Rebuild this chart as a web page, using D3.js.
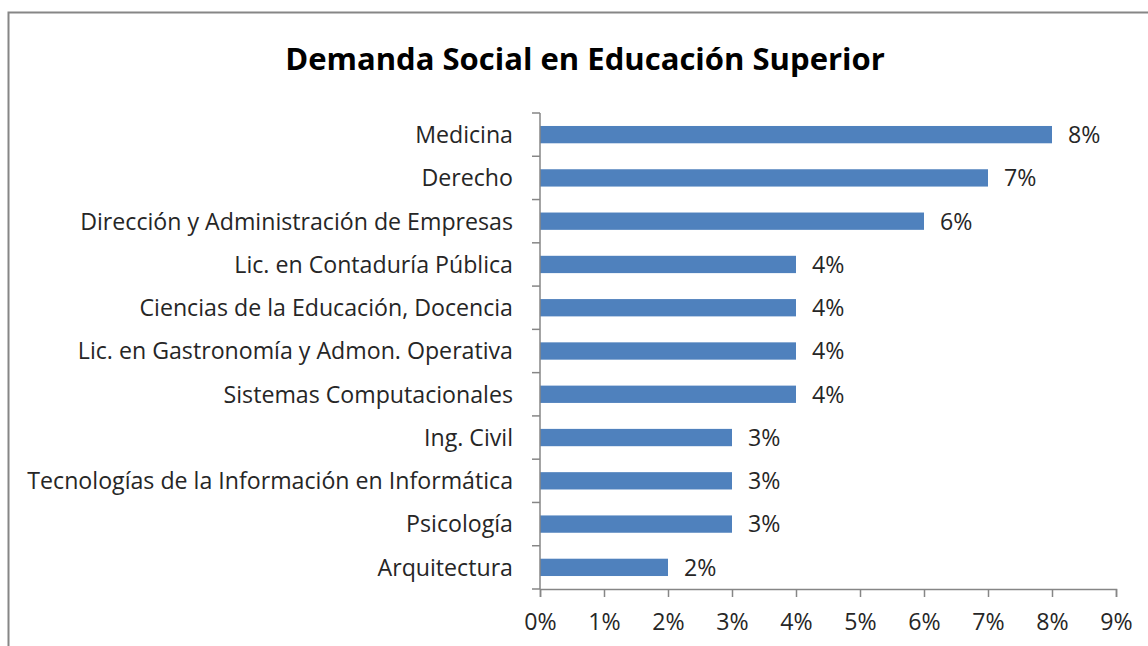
<!DOCTYPE html>
<html><head><meta charset="utf-8">
<script src="https://cdn.jsdelivr.net/npm/d3@7"></script>
<style>body{margin:0;background:#fff}svg{display:block}</style>
</head><body>
<script>
const categories = ["Medicina","Derecho","Dirección y Administración de Empresas","Lic. en Contaduría Pública","Ciencias de la Educación, Docencia","Lic. en Gastronomía y Admon. Operativa","Sistemas Computacionales","Ing. Civil","Tecnologías de la Información en Informática","Psicología","Arquitectura"];
const values = [0.08,0.07,0.06,0.04,0.04,0.04,0.04,0.03,0.03,0.03,0.02];
const valueLabels = ["8%","7%","6%","4%","4%","4%","4%","3%","3%","3%","2%"];
const xTicks = [0,0.01,0.02,0.03,0.04,0.05,0.06,0.07,0.08,0.09];
const title = "Demanda Social en Educación Superior";

const W=1148,H=646;
const svg=d3.select("body").append("svg").attr("width",W).attr("height",H);
svg.append("rect").attr("x",8.5).attr("y",12.5).attr("width",W+10).attr("height",H+10)
  .attr("fill","#fff").attr("stroke","#868686").attr("stroke-width",2);

const font="'Open Sans', Lato, sans-serif";
function fit(sel, target){ // scale font size so the text's width matches target
  const fs=+sel.attr("font-size"); const w=sel.node().getComputedTextLength();
  return fs*target/w;
}
const t=svg.append("text").attr("x",585).attr("y",70).attr("text-anchor","middle")
  .attr("font-family",font).attr("font-weight","bold").attr("font-size",30).attr("fill","#000").text(title);
t.attr("font-size",fit(t,600));

const x=d3.scaleLinear().domain([0,0.09]).range([540,1116]);
const y=d3.scaleBand().domain(categories).range([113,589]).paddingInner(0.6).paddingOuter(0.3);

svg.selectAll("rect.bar").data(categories).join("rect").attr("class","bar")
  .attr("x",x(0)).attr("y",d=>y(d)).attr("height",y.bandwidth())
  .attr("width",(d,i)=>x(values[i])-x(0)).attr("fill","#4F81BD");

// measure label font size
const probe=svg.append("text").attr("font-family",font).attr("font-size",20).text(categories[8]);
const labelFs=fit(probe,486); probe.remove();

svg.selectAll("text.val").data(categories).join("text").attr("class","val")
  .attr("x",(d,i)=>x(values[i])+16).attr("y",d=>y(d)+y.bandwidth()/2).attr("dy","0.36em")
  .attr("font-family",font).attr("font-size",labelFs).attr("fill","#262626").text((d,i)=>valueLabels[i]);

// y axis
const step=(589-113)/categories.length;
const yAxisG=svg.append("g");
yAxisG.append("line").attr("x1",540).attr("x2",540).attr("y1",113).attr("y2",589).attr("stroke","#868686").attr("stroke-width",1.5);
d3.range(categories.length+1).forEach(i=>{
  yAxisG.append("line").attr("x1",532).attr("x2",540).attr("y1",113+i*step).attr("y2",113+i*step).attr("stroke","#868686").attr("stroke-width",1.5);
});
svg.selectAll("text.cat").data(categories).join("text").attr("class","cat")
  .attr("x",513).attr("y",d=>y(d)+y.bandwidth()/2).attr("dy","0.36em").attr("text-anchor","end")
  .attr("font-family",font).attr("font-size",labelFs).attr("fill","#262626").text(d=>d);

// x axis
const xAxis=d3.axisBottom(x).tickValues(xTicks).tickFormat(d3.format(".0%")).tickSize(8).tickPadding(17);
const xg=svg.append("g").attr("transform","translate(0,589)").call(xAxis);
xg.select(".domain").attr("stroke","#868686").attr("stroke-width",1.5);
xg.selectAll(".tick line").attr("stroke","#868686").attr("stroke-width",1.5);
xg.selectAll(".tick text").attr("font-family",font).attr("font-size",labelFs).attr("fill","#262626");
</script>
</body></html>
